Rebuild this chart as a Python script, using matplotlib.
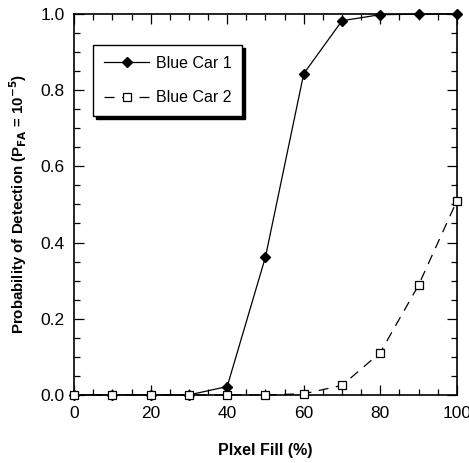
import matplotlib.pyplot as plt
from matplotlib.ticker import MultipleLocator, FormatStrFormatter

plt.rcParams['font.family'] = ['Liberation Sans', 'DejaVu Sans']

# datos
pixel_fill = [0, 10, 20, 30, 40, 50, 60, 70, 80, 90, 100]
car1 = [0.0, 0.0, 0.0, 0.0, 0.022, 0.362, 0.843, 0.982, 0.998, 0.999, 1.0]
car2 = [0.0, 0.0, 0.0, 0.0, 0.0, 0.0, 0.003, 0.025, 0.111, 0.288, 0.509]
labels = ['Blue Car 1', 'Blue Car 2']

fig = plt.figure(figsize=(4.69, 4.63), dpi=100)
ax = fig.add_axes([0.158, 0.147, 0.816, 0.823])

ax.plot(pixel_fill, car1, 'k-', marker='D', markersize=5, linewidth=0.9,
        label=labels[0], clip_on=False, zorder=3)
ax.plot(pixel_fill, car2, 'k', linestyle=(0, (8, 6)), marker='s', markersize=5.5,
        markerfacecolor='white', markeredgewidth=0.9, linewidth=0.9,
        label=labels[1], clip_on=False, zorder=3)

ax.set_xlim(0, 100)
ax.set_ylim(0, 1.0)
ax.xaxis.set_major_locator(MultipleLocator(20))
ax.xaxis.set_minor_locator(MultipleLocator(5))
ax.yaxis.set_major_locator(MultipleLocator(0.2))
ax.yaxis.set_minor_locator(MultipleLocator(0.05))
ax.yaxis.set_major_formatter(FormatStrFormatter('%.1f'))
ax.tick_params(which='both', direction='in', top=True, right=True, labelsize=12.5)
ax.tick_params(which='major', length=7, width=0.9)
ax.tick_params(which='minor', length=4, width=0.9)
ax.tick_params(axis='x', which='major', pad=8)
ax.tick_params(axis='y', which='major', pad=7)
for s in ax.spines.values():
    s.set_linewidth(1.2)

ax.set_xlabel('PIxel Fill (%)', fontsize=11.5, fontweight='bold', labelpad=16)
ax.set_ylabel('Probability of Detection (P$_{\\mathbf{FA}}$ = 10$^{\\mathbf{-5}}$)',
              fontsize=10.8, fontweight='bold', labelpad=8)

leg = ax.legend(loc='upper left', bbox_to_anchor=(0.05, 0.919), borderaxespad=0,
                fancybox=False, shadow={'color': 'black', 'alpha': 1},
                edgecolor='black', fontsize=11.5, handlelength=2.8,
                handletextpad=0.4, labelspacing=1.2, borderpad=0.7, framealpha=1)
leg.get_frame().set_linewidth(1.0)

fig.savefig('out.png', dpi=100)
